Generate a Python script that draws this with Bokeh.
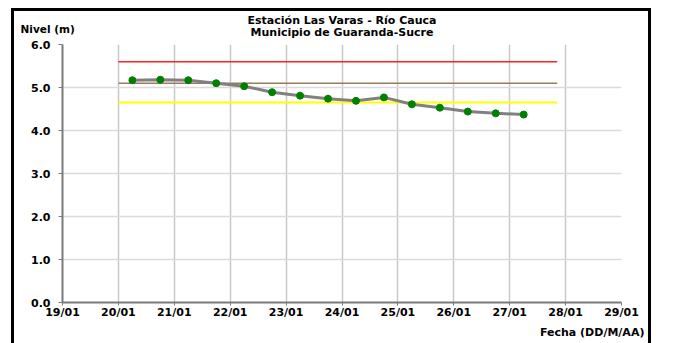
from bokeh.plotting import figure
from bokeh.models import Label, FixedTicker
from bokeh.embed import file_html
from bokeh.resources import INLINE

# Data (x in day-of-January, 0.25 = 06:00, 0.75 = 18:00)
days = [20.25, 20.75, 21.25, 21.75, 22.25, 22.75, 23.25, 23.75,
        24.25, 24.75, 25.25, 25.75, 26.25, 26.75, 27.25]
levels = [5.17, 5.18, 5.17, 5.10, 5.03, 4.89, 4.81, 4.74,
          4.69, 4.77, 4.61, 4.53, 4.44, 4.40, 4.37]

# Alert thresholds
red_level = 5.6
brown_level = 5.1
yellow_level = 4.65
threshold_start = 20.0
threshold_end = 27.85

x_ticks = [19, 20, 21, 22, 23, 24, 25, 26, 27, 28, 29]
x_tick_labels = ["19/01", "20/01", "21/01", "22/01", "23/01", "24/01",
                 "25/01", "26/01", "27/01", "28/01", "29/01"]
y_ticks = [0, 1, 2, 3, 4, 5, 6]

FONT = "DejaVu Sans"

p = figure(width=640, height=335, output_backend="svg", toolbar_location=None,
           x_range=(19, 29), y_range=(0, 6),
           min_border_left=48, min_border_right=33, min_border_top=33, min_border_bottom=44)
p.outline_line_color = None
p.background_fill_color = "white"
p.border_fill_color = "white"
p.styles = {"margin-left": "11px", "margin-top": "8px",
            "border-left": "3px solid black", "border-top": "3px solid black",
            "border-right": "3px solid black"}

# grid
p.xgrid.ticker = FixedTicker(ticks=x_ticks)
p.ygrid.ticker = FixedTicker(ticks=y_ticks)
p.xgrid.grid_line_color = "#c8c8c8"
p.ygrid.grid_line_color = "#dadada"
p.xgrid.grid_line_width = 1.5
p.ygrid.grid_line_width = 1.5

# axes
p.xaxis.ticker = FixedTicker(ticks=x_ticks)
p.xaxis.major_label_overrides = {t: l for t, l in zip(x_ticks, x_tick_labels)}
p.yaxis.ticker = FixedTicker(ticks=y_ticks)
p.yaxis.major_label_overrides = {t: f"{t:.1f}" for t in y_ticks}
for ax in (p.xaxis[0], p.yaxis[0]):
    ax.axis_line_color = "#7a7a7a"
    ax.axis_line_width = 2
    ax.major_tick_line_color = "#7a7a7a"
    ax.major_tick_in = 0
    ax.minor_tick_line_color = None
    ax.major_label_text_font = FONT
    ax.major_label_text_font_style = "bold"
    ax.major_label_text_font_size = "11px"
    ax.major_label_text_color = "black"
p.xaxis.major_tick_out = 3
p.yaxis.major_tick_out = 4
p.xaxis.major_label_standoff = 0
p.yaxis.major_label_standoff = 8

# thresholds
p.line([threshold_start, threshold_end], [red_level, red_level], line_color="#ff2020", line_width=1.5)
p.line([threshold_start, threshold_end], [brown_level, brown_level], line_color="#9c7a5a", line_width=1.5)
p.line([threshold_start, threshold_end], [yellow_level, yellow_level], line_color="#ffff00", line_width=2)

# series
p.line(days, levels, line_color="#808080", line_width=3)
p.scatter(days, levels, size=7, fill_color="#008000", line_color="#008000")

# texts (placed in side panels so they are not clipped to the plot frame)
def lab(x, y, text, align, size):
    return Label(x=x, y=y, text=text, text_align=align, text_baseline="middle",
                 text_font=FONT, text_font_style="bold", text_font_size=size,
                 text_color="black")

p.add_layout(lab(24, 6.56, "Estación Las Varas - Río Cauca", "center", "11px"), "above")
p.add_layout(lab(24, 6.28, "Municipio de Guaranda-Sucre", "center", "11px"), "above")
p.add_layout(lab(18.25, 6.37, "Nivel (m)", "left", "10.5px"), "below")
p.add_layout(lab(29.41, -0.70, "Fecha (DD/M/AA)", "right", "11px"), "below")

open("out.html", "w").write(file_html(p, INLINE))
